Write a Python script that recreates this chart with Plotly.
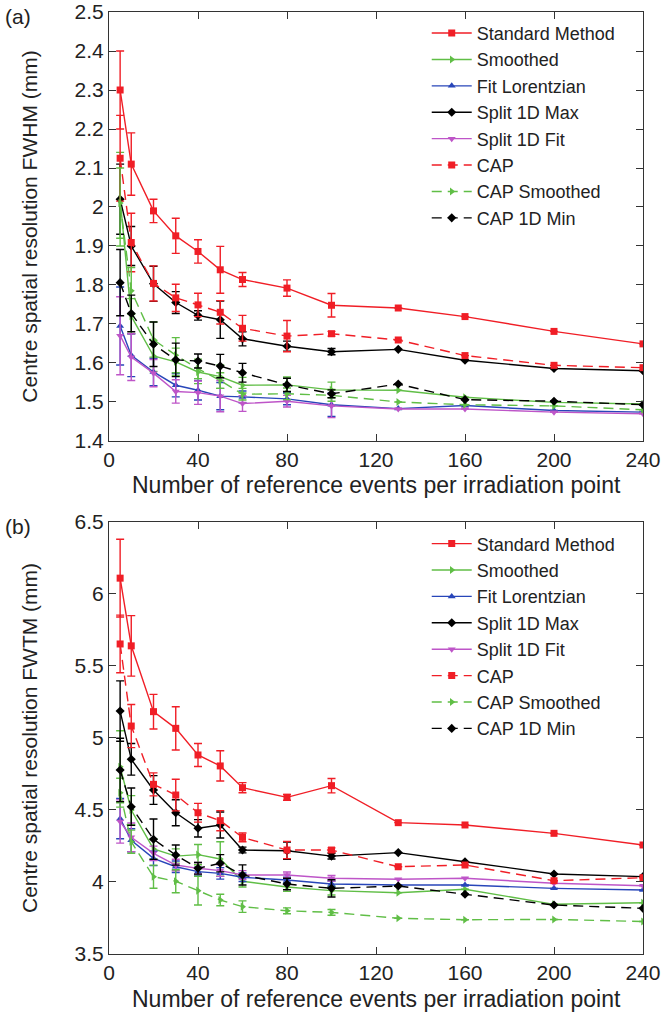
import plotly.graph_objects as go

events = [5, 10, 20, 30, 40, 50, 60, 80, 100, 130, 160, 200, 240]

methods = ["Standard Method", "Smoothed", "Fit Lorentzian", "Split 1D Max",
           "Split 1D Fit", "CAP", "CAP Smoothed", "CAP 1D Min"]

# (a) FWHM, mm
std_fwhm = [2.30, 2.11, 1.99, 1.926, 1.886, 1.839, 1.814, 1.792, 1.748, 1.741, 1.719, 1.681, 1.649]
std_fwhm_err = [0.10, 0.08, 0.03, 0.045, 0.03, 0.06, 0.018, 0.021, 0.03]
smooth_fwhm = [2.02, 1.72, 1.618, 1.603, 1.577, 1.565, 1.543, 1.544, 1.531, 1.53, 1.512, 1.499, 1.495]
smooth_fwhm_err = [0.12, 0.045, 0.04, 0.035, 0.03, 0.03, 0.02, 0.02, 0.02]
lor_fwhm = [1.695, 1.62, 1.577, 1.543, 1.53, 1.515, 1.513, 1.508, 1.493, 1.483, 1.491, 1.478, 1.474]
lor_fwhm_err = [0.10, 0.055, 0.035, 0.03, 0.025, 0.035, 0.015, 0.015, 0.03]
max_fwhm = [2.02, 1.90, 1.803, 1.755, 1.722, 1.711, 1.662, 1.643, 1.629, 1.635, 1.607, 1.586, 1.580]
max_fwhm_err = [0.09, 0.05, 0.045, 0.028, 0.012, 0.048, 0.018, 0.013, 0.008]
fit_fwhm = [1.67, 1.615, 1.574, 1.527, 1.524, 1.515, 1.496, 1.502, 1.49, 1.482, 1.482, 1.474, 1.47]
fit_fwhm_err = [0.10, 0.06, 0.035, 0.03, 0.03, 0.04, 0.02, 0.015, 0.03]
cap_fwhm = [2.125, 1.909, 1.804, 1.767, 1.749, 1.73, 1.689, 1.669, 1.675, 1.659, 1.619, 1.594, 1.588]
cap_fwhm_err = [0.11, 0.075, 0.045, 0.035, 0.03, 0.03, 0.033, 0.04, 0.006]
capsm_fwhm = [2.01, 1.785, 1.66, 1.62, 1.585, 1.555, 1.52, 1.521, 1.517, 1.50, 1.493, 1.49, 1.48]
capsm_fwhm_err = [0.09, 0.06, 0.045, 0.045, 0.025, 0.02, 0.015, 0.015, 0.015]
capmin_fwhm = [1.806, 1.727, 1.648, 1.608, 1.605, 1.592, 1.575, 1.544, 1.521, 1.546, 1.506, 1.502, 1.493]
capmin_fwhm_err = [0.085, 0.047, 0.057, 0.043, 0.018, 0.03, 0.024, 0.017, 0.01]

# (b) FWTM, mm
std_fwtm = [6.11, 5.64, 5.183, 5.067, 4.882, 4.806, 4.655, 4.588, 4.669, 4.412, 4.396, 4.338, 4.257]
std_fwtm_err = [0.27, 0.21, 0.12, 0.15, 0.08, 0.105, 0.035, 0.02, 0.05]
smooth_fwtm = [4.80, 4.50, 4.23, 4.18, 4.19, 4.16, 4.005, 3.965, 3.94, 3.925, 3.95, 3.845, 3.856]
smooth_fwtm_err = [0.25, 0.1, 0.07, 0.05, 0.07, 0.12, 0.04, 0.03, 0.03]
lor_fwtm = [4.44, 4.29, 4.164, 4.106, 4.072, 4.06, 4.033, 4.014, 3.986, 3.979, 3.979, 3.956, 3.944]
lor_fwtm_err = [0.14, 0.08, 0.05, 0.04, 0.03, 0.04, 0.03, 0.02, 0.02]
max_fwtm = [5.187, 4.852, 4.639, 4.481, 4.373, 4.396, 4.222, 4.217, 4.18, 4.204, 4.141, 4.056, 4.037]
max_fwtm_err = [0.21, 0.11, 0.1, 0.09, 0.06, 0.09, 0.02, 0.06, 0.02]
fit_fwtm = [4.42, 4.31, 4.199, 4.118, 4.095, 4.079, 4.049, 4.049, 4.026, 4.019, 4.026, 3.991, 3.974]
fit_fwtm_err = [0.15, 0.1, 0.05, 0.04, 0.04, 0.04, 0.03, 0.02, 0.02]
cap_fwtm = [5.653, 5.083, 4.678, 4.604, 4.481, 4.426, 4.31, 4.222, 4.222, 4.106, 4.118, 4.009, 4.03]
cap_fwtm_err = [0.2, 0.15, 0.08, 0.11, 0.065, 0.07, 0.03, 0.06, 0.015]
capsm_fwtm = [4.62, 4.28, 4.037, 4.005, 3.94, 3.875, 3.829, 3.80, 3.789, 3.748, 3.738, 3.74, 3.726]
capsm_fwtm_err = [0.1, 0.08, 0.08, 0.08, 0.1, 0.04, 0.04, 0.02, 0.02]
capmin_fwtm = [4.778, 4.523, 4.297, 4.187, 4.095, 4.13, 4.049, 3.986, 3.956, 3.972, 3.915, 3.84, 3.817]
capmin_fwtm_err = [0.22, 0.13, 0.14, 0.07, 0.04, 0.06, 0.07, 0.04, 0.06]

RED = "rgb(240,30,38)"
GREEN = "rgb(96,190,70)"
BLUE = "rgb(40,70,185)"
BLACK = "black"
MAGENTA = "rgb(190,85,200)"

styles = [
    (RED, "square", "solid"),
    (GREEN, "triangle-right", "solid"),
    (BLUE, "triangle-up", "solid"),
    (BLACK, "diamond", "solid"),
    (MAGENTA, "triangle-down", "solid"),
    (RED, "square", "10px,6px"),
    (GREEN, "triangle-right", "10px,6px"),
    (BLACK, "diamond", "10px,6px"),
]

fwhm = [std_fwhm, smooth_fwhm, lor_fwhm, max_fwhm, fit_fwhm, cap_fwhm, capsm_fwhm, capmin_fwhm]
fwhm_err = [std_fwhm_err, smooth_fwhm_err, lor_fwhm_err, max_fwhm_err, fit_fwhm_err,
            cap_fwhm_err, capsm_fwhm_err, capmin_fwhm_err]
fwtm = [std_fwtm, smooth_fwtm, lor_fwtm, max_fwtm, fit_fwtm, cap_fwtm, capsm_fwtm, capmin_fwtm]
fwtm_err = [std_fwtm_err, smooth_fwtm_err, lor_fwtm_err, max_fwtm_err, fit_fwtm_err,
            cap_fwtm_err, capsm_fwtm_err, capmin_fwtm_err]


def pad(err):
    # no error bars drawn for the large-sample points
    return list(err) + [None] * (len(events) - len(err))


fig = go.Figure()

for panel, (vals, errs) in enumerate([(fwhm, fwhm_err), (fwtm, fwtm_err)]):
    xa = "x" if panel == 0 else "x2"
    ya = "y" if panel == 0 else "y2"
    lg = "legend" if panel == 0 else "legend2"
    for name, v, e, (col, sym, dash) in zip(methods, vals, errs, styles):
        fig.add_trace(go.Scatter(
            x=events, y=v, name=name, mode="lines+markers",
            xaxis=xa, yaxis=ya, legend=lg,
            line=dict(color=col, width=1.4, dash=dash),
            marker=dict(symbol=sym, size=7, color=col),
            error_y=dict(type="data", array=pad(e), color=col, thickness=1.4, width=4),
        ))

font = "Liberation Sans, Arial, sans-serif"
TXT = "#222"
axis_common = dict(
    showline=True, linecolor="#333", linewidth=1.2, mirror="ticks",
    ticks="inside", ticklen=7, tickcolor="#333", showgrid=False, zeroline=False,
    automargin=False, ticklabeloverflow="allow", tickfont=dict(size=21, color=TXT),
)
XTITLE = "Number of reference events per irradiation point"

fig.update_layout(
    width=662, height=1015,
    margin=dict(l=109, r=19, t=12, b=61),
    paper_bgcolor="white", plot_bgcolor="white",
    font=dict(family=font, color=TXT),
    showlegend=True,
    xaxis=dict(domain=[0, 1], anchor="y", range=[0, 240], tick0=0, dtick=40, **axis_common),
    yaxis=dict(domain=[0.5446, 1], anchor="x", range=[1.4, 2.5], tick0=1.4, dtick=0.1,
               title=dict(text="Centre spatial resolution FWHM (mm)",
                          font=dict(size=21, color=TXT), standoff=31),
               **axis_common),
    xaxis2=dict(domain=[0, 1], anchor="y2", range=[0, 240], tick0=0, dtick=40, **axis_common),
    yaxis2=dict(domain=[0, 0.4586], anchor="x2", range=[3.5, 6.5], tick0=3.5, dtick=0.5,
                title=dict(text="Centre spatial resolution FWTM (mm)",
                           font=dict(size=21, color=TXT), standoff=31),
                **axis_common),
    legend=dict(x=0.595, y=0.997, xanchor="left", yanchor="top",
                bgcolor="rgba(0,0,0,0)", font=dict(size=18, color=TXT),
                tracegroupgap=0, itemwidth=40),
    legend2=dict(x=0.595, y=0.455, xanchor="left", yanchor="top",
                 bgcolor="rgba(0,0,0,0)", font=dict(size=18, color=TXT),
                 tracegroupgap=0, itemwidth=40),
    annotations=[
        dict(text=XTITLE, xref="paper", yref="paper", x=0.5, y=0.4979,
             xanchor="center", yanchor="middle", showarrow=False,
             font=dict(size=23, color=TXT)),
        dict(text=XTITLE, xref="paper", yref="paper", x=0.5, y=-0.0478,
             xanchor="center", yanchor="middle", showarrow=False,
             font=dict(size=23, color=TXT)),
        dict(text="(a)", xref="paper", yref="paper", x=-0.1985, y=0.9957,
             xanchor="left", yanchor="middle", showarrow=False, font=dict(size=21, color=TXT)),
        dict(text="(b)", xref="paper", yref="paper", x=-0.1985, y=0.4533,
             xanchor="left", yanchor="middle", showarrow=False, font=dict(size=21, color=TXT)),
    ],
)

# drop the default page margin so the figure sits at the window's top-left corner
fig.write_html("out.html", config={"displayModeBar": False},
               post_script="document.body.style.margin = '0';")
